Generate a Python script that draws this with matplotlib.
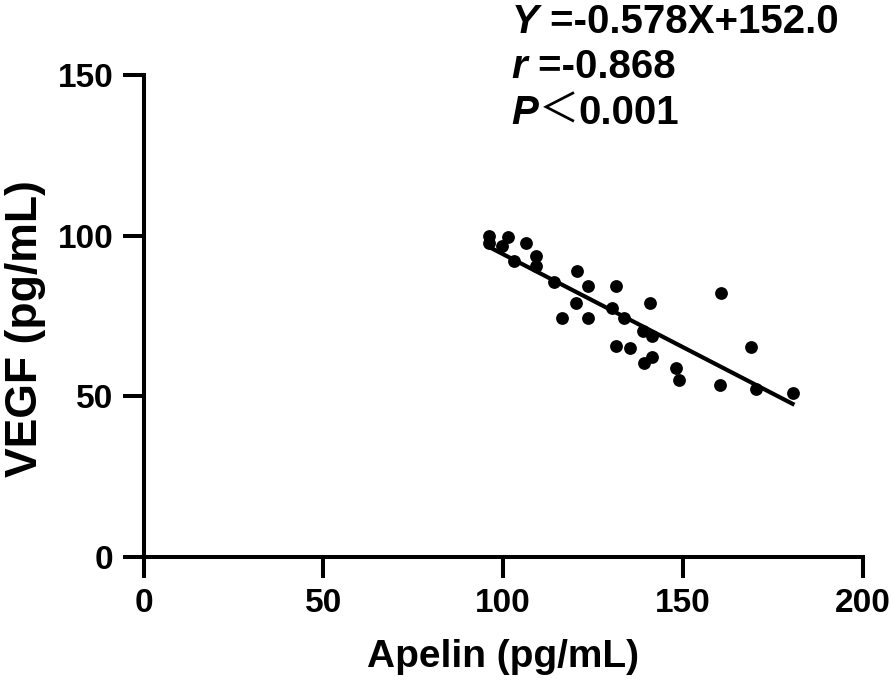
import matplotlib
matplotlib.use("Agg")
import matplotlib.pyplot as plt
import numpy as np

plt.rcParams['font.family'] = ['Liberation Sans', 'DejaVu Sans']

# Apelin (x) vs VEGF (y)
apelin = [96.1, 96.1, 101.2, 99.8, 106.3, 109.0, 109.0, 102.9, 114.0, 120.4,
          123.5, 131.4, 120.3, 116.3, 123.5, 130.3, 133.5, 140.8, 138.9, 141.4,
          131.4, 135.2, 141.4, 139.1, 160.6, 169.0, 148.2, 148.9, 160.2, 170.4,
          180.5]
vegf = [99.9, 97.6, 99.7, 96.9, 97.6, 93.8, 90.7, 92.2, 85.6, 89.0,
        84.3, 84.3, 79.0, 74.5, 74.3, 77.6, 74.3, 79.0, 70.3, 68.8,
        65.8, 65.0, 62.3, 60.5, 82.1, 65.3, 58.9, 55.1, 53.5, 52.2,
        51.1]
slope, intercept = -0.578, 152.0
x_ticks = [0, 50, 100, 150, 200]
y_ticks = [0, 50, 100, 150]

fig = plt.figure(figsize=(8.93, 6.81), dpi=100)
ax = fig.add_axes([0.161, 0.182, 0.805, 0.708])

ax.scatter(apelin, vegf, s=85, color="black", zorder=3, linewidths=0)
xl = np.array([min(apelin), max(apelin)])
ax.plot(xl, slope * xl + intercept, color="black", lw=3)

ax.set_xlim(0, 200)
ax.set_ylim(0, 150)
ax.set_xticks(x_ticks)
ax.set_yticks(y_ticks)
for s in ["top", "right"]:
    ax.spines[s].set_visible(False)
for s in ["left", "bottom"]:
    ax.spines[s].set_linewidth(2.9)
ax.tick_params(width=2.9, length=15, labelsize=24, pad=7)
for lab in ax.get_xticklabels() + ax.get_yticklabels():
    lab.set_fontweight("bold")

ax.set_xlabel("Apelin (pg/mL)", fontsize=28, fontweight="bold", labelpad=15)
ax.set_ylabel("VEGF (pg/mL)", fontsize=32, fontweight="bold")
ax.yaxis.set_label_coords(-0.136, 0.473)

# Regression annotation
lines = [("Y", " =-0.578X+152.0"), ("r", " =-0.868"), ("P", None)]
y0 = 0.996
for i, (it, rest) in enumerate(lines):
    t = fig.text(0.573, y0 - i * 0.067, it, fontsize=29, fontweight="bold",
                 fontstyle="italic", va="top")
    if rest is not None:
        ax.annotate(rest, xy=(1, 0), xycoords=t, va="bottom", fontsize=29,
                    fontweight="bold", annotation_clip=False)
    else:
        ax.annotate("\uff1c", xy=(1, 0), xycoords=t, va="bottom",
                    fontsize=29, fontweight="normal",
                    family=["Noto Sans CJK SC", "DejaVu Sans"],
                    annotation_clip=False)
        ax.annotate("0.001", xy=(1, 0), xycoords=t, xytext=(29, 0),
                    textcoords="offset points", va="bottom", fontsize=29,
                    fontweight="bold", annotation_clip=False)

fig.savefig("out.png", dpi=100)
